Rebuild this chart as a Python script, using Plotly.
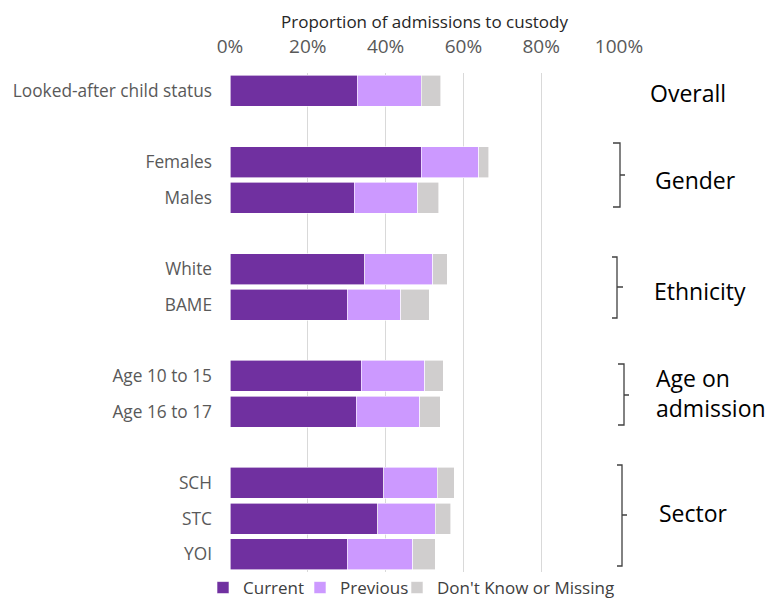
import plotly.graph_objects as go

categories = ["Looked-after child status", "Females", "Males", "White", "BAME",
              "Age 10 to 15", "Age 16 to 17", "SCH", "STC", "YOI"]
current = [32.7, 49.1, 31.9, 34.6, 30.1, 33.8, 32.5, 39.5, 38.0, 30.1]
previous = [16.4, 14.9, 16.3, 17.5, 13.8, 16.2, 16.3, 13.8, 14.8, 16.9]
dont_know = [5.1, 2.5, 5.4, 3.7, 7.3, 4.8, 5.2, 4.4, 3.9, 5.8]
axis_order = ["Looked-after child status", " ", "Females", "Males", "  ", "White", "BAME",
              "   ", "Age 10 to 15", "Age 16 to 17", "    ", "SCH", "STC", "YOI"]
group_labels = ["Overall", "Gender", "Ethnicity", "Age on<br>admission", "Sector"]
tick_vals = [0, 20, 40, 60, 80, 100]
tick_text = ["0%", "20%", "40%", "60%", "80%", "100%"]

FONT = "'Open Sans', sans-serif"
W, H = 769, 599
L, R, T, B = 230, 150, 73, 27
pw, ph = W - L - R, H - T - B

def px(x):
    return (x - L) / pw

def py(y):
    return (H - B - y) / ph

series = [("Current", current, "#7030A0", "legend", 203),
          ("Previous", previous, "#CC99FF", "legend2", 300),
          ("Don't Know or Missing", dont_know, "#D0CECE", "legend3", 397)]

fig = go.Figure()
legends = {}
for name, vals, col, lg, lx in series:
    fig.add_trace(go.Bar(y=categories, x=vals, name=name, orientation="h", legend=lg,
                         showlegend=True,
                         marker=dict(color=col, line=dict(color="white", width=0.6))))
    legends[lg] = dict(x=px(lx), xanchor="left", y=py(588), yanchor="middle",
                       font=dict(size=17, color="#404040"), itemwidth=30,
                       bgcolor="rgba(0,0,0,0)")

fig.update_layout(
    width=W, height=H, barmode="stack", bargap=0.13, showlegend=True,
    margin=dict(l=L, r=R, t=T, b=B, autoexpand=False),
    plot_bgcolor="white", paper_bgcolor="white",
    font=dict(family=FONT, color="#595959"),
    xaxis=dict(side="top", range=[0, 100], tickmode="array", tickvals=tick_vals,
               ticktext=tick_text, automargin=False,
               showgrid=True, gridcolor="#D9D9D9", gridwidth=1, zeroline=False,
               tickfont=dict(size=19, color="#595959"), ticklabelstandoff=15,
               title=dict(text="Proportion of admissions to custody",
                          font=dict(size=17, color="#262626"), standoff=0),
               showline=False, fixedrange=True),
    yaxis=dict(categoryorder="array", categoryarray=axis_order, autorange="reversed",
               automargin=False,
               tickfont=dict(size=17.3, color="#595959"), showgrid=False, ticklabelstandoff=17,
               fixedrange=True),
    **legends,
)

# group labels
label_pos = [(688, 93), (695, 180), (700, 291), (711, 393), (693, 513)]
for (x, y), t in zip(label_pos, group_labels):
    fig.add_annotation(x=px(x), y=py(y), xref="paper", yref="paper", text=t, showarrow=False,
                       xanchor="center", yanchor="middle",
                       font=dict(size=23, color="black", family=FONT), align="left")

# brackets: (x_vertical, x_serif, top, bottom, mid, x_tick)
brackets = [(620, 613, 143, 207, 175, 625),
            (617, 612, 257, 318, 287, 623),
            (624, 618, 364, 425, 395, 629),
            (622, 617, 465, 566, 515, 627)]
for xv, xs, top, bot, mid, xt in brackets:
    path = (f"M {px(xs)} {py(top)} L {px(xv)} {py(top)} L {px(xv)} {py(bot)} L {px(xs)} {py(bot)} "
            f"M {px(xv)} {py(mid)} L {px(xt)} {py(mid)}")
    fig.add_shape(type="path", path=path, xref="paper", yref="paper",
                  line=dict(color="#404040", width=1.3))

fig.write_html("out.html", config={"displayModeBar": False},
               post_script="document.body.style.margin='0';")
